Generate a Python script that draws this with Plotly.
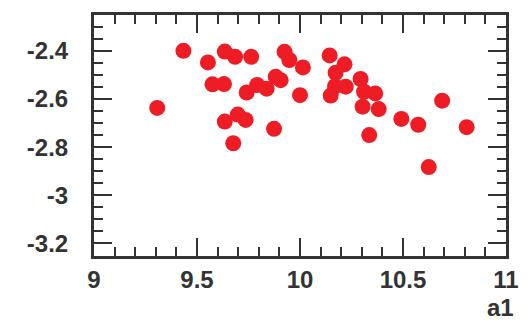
import plotly.graph_objects as go

# a1 vs. response, one marker per measurement
a1 = [9.307, 9.434, 9.553, 9.635, 9.685, 9.763, 9.575, 9.631, 9.741, 9.792,
      9.838, 9.882, 9.906, 9.925, 9.948, 10.014, 10.000, 9.635, 9.698, 9.736,
      9.874, 9.676, 10.144, 10.216, 10.173, 10.170, 10.149, 10.222, 10.294, 10.311,
      10.365, 10.304, 10.382, 10.336, 10.492, 10.574, 10.690, 10.625, 10.809]
yval = [-2.637, -2.400, -2.448, -2.403, -2.425, -2.425, -2.539, -2.538, -2.573, -2.542,
        -2.557, -2.508, -2.522, -2.404, -2.438, -2.469, -2.584, -2.694, -2.665, -2.687,
        -2.724, -2.784, -2.419, -2.456, -2.491, -2.547, -2.586, -2.549, -2.517, -2.570,
        -2.577, -2.632, -2.642, -2.750, -2.683, -2.707, -2.607, -2.883, -2.717]

x_ticks = [9, 9.5, 10, 10.5, 11]
x_labels = ["9", "9.5", "10", "10.5", "11"]
y_ticks = [-3.2, -3.0, -2.8, -2.6, -2.4]
y_labels = ["-3.2", "-3", "-2.8", "-2.6", "-2.4"]

INK = "#333333"
RED = "#ee1c25"
FAMILY = "Liberation Sans, Arial, sans-serif"
FONT = dict(family=FAMILY, size=24, color=INK, weight="bold")

fig = go.Figure(go.Scatter(
    x=a1, y=yval, mode="markers",
    marker=dict(color=RED, size=16, line=dict(width=0)),
    cliponaxis=True,
))

common = dict(
    showgrid=False, zeroline=False,
    showline=True, linecolor=INK, linewidth=3, mirror="allticks",
    ticks="inside", ticklen=18, tickwidth=1.5, tickcolor=INK,
    tickfont=FONT,
)

fig.update_xaxes(
    range=[9, 11], tickvals=x_ticks, ticktext=x_labels,
    minor=dict(dtick=0.1, ticks="inside", ticklen=9, tickwidth=1.5, tickcolor=INK),
    **common,
)
fig.update_yaxes(
    range=[-3.2525, -2.251], tickvals=y_ticks, ticktext=y_labels,
    ticklabelstandoff=18,
    minor=dict(dtick=0.05, tick0=-3.2, ticks="inside", ticklen=9, tickwidth=1.5, tickcolor=INK),
    **common,
)

# axis title at the right end, ROOT style
fig.add_annotation(
    text="a1", xref="paper", yref="paper", x=1.0, y=-0.28,
    xanchor="right", yanchor="bottom", xshift=10, showarrow=False, font=FONT,
)

fig.update_layout(
    width=531, height=324,
    margin=dict(l=94, r=13, t=14, b=68),
    paper_bgcolor="white", plot_bgcolor="white",
    font=dict(family=FAMILY, color=INK),
    showlegend=False,
)

fig.write_html("out.html")
